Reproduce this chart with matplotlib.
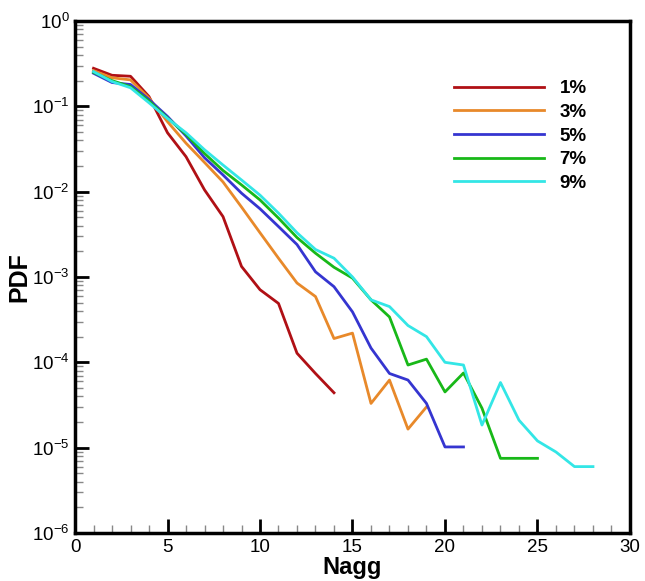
import numpy as np
import matplotlib
matplotlib.use('Agg')
import matplotlib.pyplot as plt
from matplotlib.ticker import LogLocator, MultipleLocator, NullFormatter

plt.rcParams['font.family'] = ['Liberation Sans', 'DejaVu Sans']
plt.rcParams['mathtext.fontset'] = 'custom'
plt.rcParams['mathtext.rm'] = 'Liberation Sans'
plt.rcParams['mathtext.default'] = 'regular'

# PDF of aggregate size for each concentration
x1 = list(range(1, 15))
pdf1 = [0.279, 0.231, 0.225, 0.13, 0.049, 0.0257, 0.0105, 0.0051, 0.00133,
        0.00071, 0.00049, 0.000128, 7.4e-5, 4.4e-5]

x3 = list(range(1, 20))
pdf3 = [0.262, 0.216, 0.204, 0.125, 0.066, 0.037, 0.022, 0.013, 0.0066,
        0.0033, 0.00166, 0.00085, 0.00059, 0.00019, 0.00022, 3.3e-5, 6.2e-5,
        1.65e-5, 3.0e-5]

x5 = list(range(1, 22))
pdf5 = [0.244, 0.19, 0.18, 0.12, 0.076, 0.045, 0.025, 0.0157, 0.0096,
        0.0063, 0.0039, 0.0024, 0.00115, 0.00077, 0.00039, 0.000147, 7.4e-5,
        6.2e-5, 3.3e-5, 1.02e-5, 1.02e-5]

x7 = list(range(1, 26))
pdf7 = [0.25, 0.2, 0.17, 0.115, 0.073, 0.047, 0.028, 0.0177, 0.012,
        0.008, 0.0049, 0.0029, 0.0019, 0.0013, 0.00097, 0.00054, 0.00034,
        9.3e-5, 0.000109, 4.5e-5, 7.5e-5, 2.9e-5, 7.5e-6, 7.5e-6, 7.5e-6]

x9 = list(range(1, 29))
pdf9 = [0.255, 0.195, 0.165, 0.11, 0.072, 0.049, 0.031, 0.0205, 0.0137,
        0.0091, 0.0056, 0.0033, 0.0021, 0.00166, 0.001, 0.00054, 0.00045,
        0.00027, 0.0002, 0.0001, 9.3e-5, 1.84e-5, 5.8e-5, 2.1e-5, 1.2e-5,
        8.9e-6, 6.0e-6, 6.0e-6]

labels = ['1%', '3%', '5%', '7%', '9%']
colors = ['#b01015', '#e8892a', '#3535d0', '#18b818', '#33e6e6']

fig = plt.figure(figsize=(6.45, 5.81), dpi=100)
ax = fig.add_axes([0.1163, 0.0826, 0.8604, 0.8813])

for xs, ys, lab, c in zip([x1, x3, x5, x7, x9], [pdf1, pdf3, pdf5, pdf7, pdf9], labels, colors):
	ax.plot(xs, ys, color=c, lw=2, label=lab)

ax.set_yscale('log')
ax.set_xlim(0, 30)
ax.set_ylim(1e-6, 1)
ax.xaxis.set_major_locator(MultipleLocator(5))
ax.xaxis.set_minor_locator(MultipleLocator(1))
ax.yaxis.set_major_locator(LogLocator(base=10, numticks=10))
ax.yaxis.set_minor_locator(LogLocator(base=10, subs=np.arange(2, 10), numticks=10))
ax.yaxis.set_minor_formatter(NullFormatter())

for s in ax.spines.values():
	s.set_linewidth(2.5)
ax.tick_params(which='major', direction='in', length=10, width=2, labelsize=13.5, pad=4)
ax.tick_params(which='minor', direction='in', length=6, width=1, color='#888888')

ax.set_xlabel('Nagg', fontsize=17, fontweight='bold', labelpad=0)
ax.set_ylabel('PDF', fontsize=18, fontweight='bold', labelpad=0)

leg = ax.legend(loc='upper right', bbox_to_anchor=(0.939, 0.903), frameon=False,
	borderpad=0, handlelength=4.8, handletextpad=0.85, labelspacing=0.35,
	prop={'size': 13.5, 'weight': 'bold'})

fig.savefig('out.png', dpi=100)
